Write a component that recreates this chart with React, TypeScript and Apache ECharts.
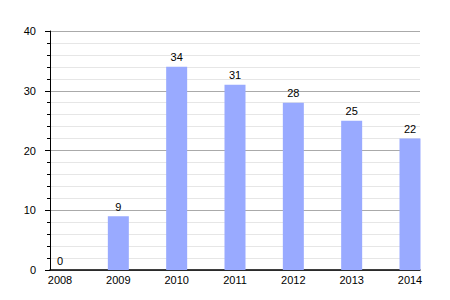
import React, { useEffect, useRef } from "react";
import * as echarts from "echarts";

const years = ["2008", "2009", "2010", "2011", "2012", "2013", "2014"];
const values = [0, 9, 34, 31, 28, 25, 22];

export default function App() {
  const ref = useRef<HTMLDivElement>(null);
  useEffect(() => {
    if (!ref.current) return;
    const chart = echarts.init(ref.current, null, { renderer: "svg" });
    const font = "'Liberation Sans', Arial, sans-serif";
    chart.setOption({
      animation: false,
      backgroundColor: "#ffffff",
      grid: [
        { left: 50, right: 30, top: 31, bottom: 30 },
        { left: 60, right: 40, top: 31, bottom: 30 },
      ],
      xAxis: [
        {
          gridIndex: 0,
          type: "value",
          min: 0,
          max: 1,
          axisLine: { show: true, onZero: false, lineStyle: { color: "#000", width: 1.5 } },
          axisTick: { show: false },
          axisLabel: { show: false },
          splitLine: { show: false },
        },
        {
          gridIndex: 1,
          type: "category",
          data: years,
          boundaryGap: false,
          axisLine: { show: false },
          axisTick: { show: false },
          axisLabel: { color: "#000", fontSize: 11, fontFamily: font, margin: 4 },
          splitLine: { show: false },
        },
      ],
      yAxis: [
        {
          gridIndex: 0,
          type: "value",
          min: 0,
          max: 40,
          interval: 10,
          axisLine: { show: true, lineStyle: { color: "#000", width: 1 } },
          axisTick: { show: true, length: 5, lineStyle: { color: "#000" } },
          minorTick: { show: true, splitNumber: 5, length: 3, lineStyle: { color: "#000" } },
          axisLabel: { color: "#000", fontSize: 11, fontFamily: font, margin: 14 },
          splitLine: { show: true, lineStyle: { color: "#aaaaaa", width: 1 } },
          minorSplitLine: { show: true, lineStyle: { color: "#e6e6e6", width: 1 } },
        },
        {
          gridIndex: 1,
          type: "value",
          min: 0,
          max: 40,
          show: false,
        },
      ],
      series: [
        {
          type: "bar",
          xAxisIndex: 1,
          yAxisIndex: 1,
          data: values,
          barWidth: 21,
          itemStyle: { color: "#99aaff" },
          label: {
            show: true,
            position: "top",
            distance: 4,
            color: "#000",
            fontSize: 11,
            fontFamily: font,
          },
        },
      ],
    });
    return () => chart.dispose();
  }, []);
  return <div ref={ref} style={{ width: 450, height: 300, margin: -8 }} />;
}
